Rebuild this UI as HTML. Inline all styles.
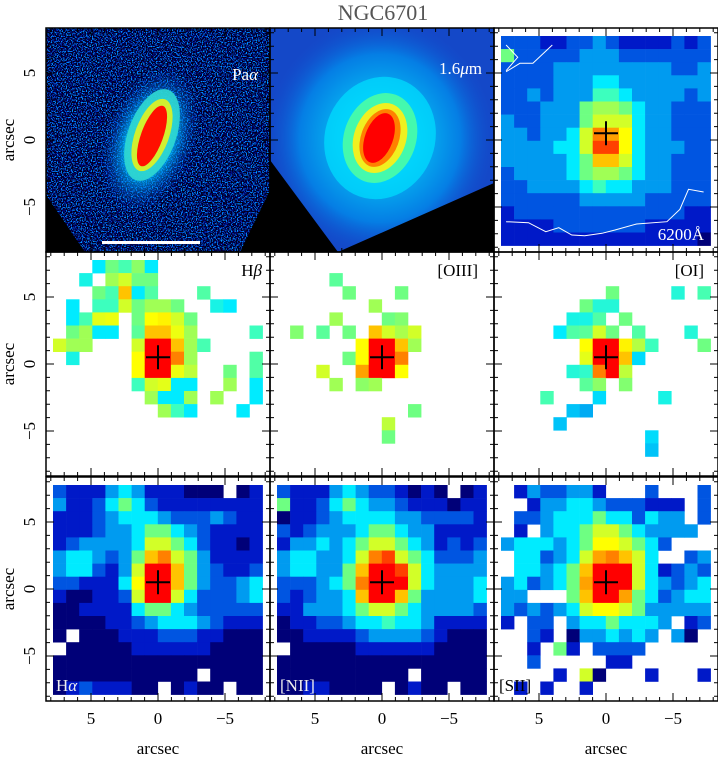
<!DOCTYPE html>
<html><head><meta charset="utf-8">
<style>
html,body{margin:0;padding:0;background:#fff;}
body{width:718px;height:758px;overflow:hidden;}
svg text{font-family:"Liberation Serif",serif;}
</style></head>
<body>
<svg id="fig" width="718" height="758" viewBox="0 0 718 758" xmlns="http://www.w3.org/2000/svg">
<defs>
  <filter id="speck" x="0" y="0" width="100%" height="100%">
    <feTurbulence type="fractalNoise" baseFrequency="0.8" numOctaves="1" seed="3" result="n"/>
    <feColorMatrix in="n" type="matrix" values="0 0 0 0 0  0 0 0 2.2 -1.2  0 0 0 3 -1.0  0 0 0 6 -2.6"/>
  </filter>
  <clipPath id="paClip"><polygon points="46,28 270,28 270,190 240,252 85,252 46,195"/></clipPath>
  <clipPath id="irClip"><polygon points="270,28 494,28 494,183 338,252 270,160"/></clipPath>
  <radialGradient id="irGlow" cx="0.5" cy="0.5" r="0.5">
    <stop offset="0" stop-color="#40ffd0"/>
    <stop offset="0.35" stop-color="#00d8ff"/>
    <stop offset="0.7" stop-color="#0090ee"/>
    <stop offset="1" stop-color="#1050d0" stop-opacity="0"/>
  </radialGradient>
  <radialGradient id="paGlow" cx="0.5" cy="0.5" r="0.5">
    <stop offset="0" stop-color="#60ff90"/>
    <stop offset="0.5" stop-color="#00c0ff"/>
    <stop offset="1" stop-color="#0040d0" stop-opacity="0"/>
  </radialGradient>
</defs>
<text x="383" y="20" text-anchor="middle" font-size="22" fill="#555">NGC6701</text>

<g>
  <rect x="46" y="28" width="224" height="224" fill="#000"/>
  <g clip-path="url(#paClip)">
    <rect x="46" y="28" width="224" height="224" fill="#000018"/>
    <rect x="46" y="28" width="224" height="224" filter="url(#speck)"/>
    <ellipse cx="150" cy="140" rx="45" ry="75" transform="rotate(20 150 140)" fill="url(#paGlow)" opacity="0.8"/>
    <ellipse cx="152" cy="135" rx="24" ry="48" transform="rotate(20 152 135)" fill="#30d8d0" opacity="0.9"/>
    <ellipse cx="152" cy="135" rx="17" ry="38" transform="rotate(20 152 135)" fill="#d0f030"/>
    <ellipse cx="152" cy="136" rx="11" ry="32" transform="rotate(20 152 136)" fill="#ff1000"/>
  </g>
  <rect x="102" y="241" width="98" height="3" fill="#fff"/>
  <text x="258" y="80" text-anchor="end" font-size="17" fill="#fff">Pa<tspan font-style="italic">α</tspan></text>
</g>

<g>
  <rect x="270" y="28" width="224" height="224" fill="#000"/>
  <g clip-path="url(#irClip)">
    <rect x="270" y="28" width="224" height="224" fill="#1448c8"/>
    <ellipse cx="380" cy="138" rx="115" ry="120" fill="url(#irGlow)" opacity="0.75"/>
    <ellipse cx="380" cy="138" rx="55" ry="62" transform="rotate(20 380 138)" fill="#00e0ff" opacity="0.7"/>
    <ellipse cx="380" cy="138" rx="36" ry="46" transform="rotate(20 380 138)" fill="#50ffa0" opacity="0.85"/>
    <ellipse cx="380" cy="138" rx="26" ry="36" transform="rotate(20 380 138)" fill="#f0f020"/>
    <ellipse cx="380" cy="138" rx="19" ry="30" transform="rotate(20 380 138)" fill="#ff8000"/>
    <ellipse cx="379" cy="138" rx="14" ry="26" transform="rotate(20 379 138)" fill="#ff0000"/>
  </g>
  <text x="482" y="74" text-anchor="end" font-size="17" fill="#fff">1.6<tspan font-style="italic">μ</tspan>m</text>
</g>

<g id="maps"></g>
<g id="axes"></g>
</svg>
<script>
const cont6200 = [
[2,2,2,1,1,2,2,3,2,1,1,1,1,2,1,2],
[5,2,2,2,2,2,3,3,3,2,2,2,2,2,2,2],
[2,2,2,2,3,3,3,3,3,3,3,3,3,2,2,3],
[2,2,2,2,3,3,3,4,4,3,3,3,3,3,3,3],
[2,2,3,2,3,3,3,4.5,4.5,4,3,3,3,3,2,3],
[2,2,2,3,3,3,5,5.5,5.5,5,4,3,3,2,2,2],
[3,2,2,3,3,3,5,6,6,6,4,3,3,2,2,2],
[3,3,2,3,3,4,6,8,7.5,6.5,4,3,3,2,2,2],
[3,3,3,3,4,4,6,8.5,8.5,6.5,4,3,3,3,2,2],
[3,3,3,3,3,4,5,7,7,6,4,3,3,2,2,2],
[2,3,3,3,3,4,5,5.5,5.5,5,4,3,3,2,2,2],
[2,2,3,3,3,3,4,4.5,4,4,3,3,3,2,2,2],
[2,2,2,2,2,2,3,3,3,3,3,2,2,2,2,2],
[1,2,2,2,2,2,2,2,2,2,2,2,2,2,1,1],
[1,1,1,1,2,2,2,2,2,2,2,1,1,1,1,1],
[1,1,1,1,1,1,1,1,1,1,1,1,1,1,1,0]];
const hbeta = [
[-1,-1,-1,4,5,4.6,5.3,4,-1,-1,-1,-1,-1,-1,-1,-1],
[-1,-1,4.2,-1,5.5,6,5,5,-1,-1,-1,-1,-1,-1,-1,-1],
[-1,-1,-1,5,4.6,7,4,4.7,-1,-1,-1,4.7,-1,-1,-1,-1],
[-1,4,-1,4.5,4.5,6,5,5.5,5.5,5,-1,-1,4.2,4,-1,-1],
[-1,4,4.6,6.2,6.3,-1,5,6.5,6.6,6,5,-1,-1,-1,-1,-1],
[-1,5,5.5,4,4,-1,4.8,7,7,6.3,5.5,-1,-1,-1,-1,4.5],
[6,5.5,5.5,-1,-1,-1,6,9,9,7,5.5,4.6,-1,-1,-1,-1],
[-1,4.2,-1,-1,-1,-1,6.5,9,9,8,5.5,-1,-1,-1,-1,4.7],
[-1,-1,-1,-1,-1,-1,6.5,9,9,6.3,5.8,-1,-1,5,-1,4.7],
[-1,-1,-1,-1,-1,-1,4.5,6,6.2,4,4,-1,-1,5.5,-1,4],
[-1,-1,-1,-1,-1,-1,-1,5.5,4,4,5.5,-1,5.5,-1,-1,4],
[-1,-1,-1,-1,-1,-1,-1,-1,5.5,4.5,4,-1,-1,-1,4,-1],
[-1,-1,-1,-1,-1,-1,-1,-1,-1,-1,-1,-1,-1,-1,-1,-1],
[-1,-1,-1,-1,-1,-1,-1,-1,-1,-1,-1,-1,-1,-1,-1,-1],
[-1,-1,-1,-1,-1,-1,-1,-1,-1,-1,-1,-1,-1,-1,-1,-1],
[-1,-1,-1,-1,-1,-1,-1,-1,-1,-1,-1,-1,-1,-1,-1,-1]];
const oiii = [
[-1,-1,-1,-1,-1,-1,-1,-1,-1,-1,-1,-1,-1,-1,-1,-1],
[-1,-1,-1,-1,4.8,-1,-1,-1,-1,-1,-1,-1,-1,-1,-1,-1],
[-1,-1,-1,-1,-1,5,-1,-1,-1,5,-1,-1,-1,-1,-1,-1],
[-1,-1,-1,-1,-1,-1,-1,5.5,-1,-1,-1,-1,-1,-1,-1,-1],
[-1,-1,-1,-1,5.5,-1,-1,-1,5,5.2,-1,-1,-1,-1,-1,-1],
[-1,5.2,-1,4.8,-1,5,-1,7,6,5.6,6,-1,-1,-1,-1,-1],
[-1,-1,-1,-1,-1,-1,6.5,9,9,7,5.5,-1,-1,-1,-1,-1],
[-1,-1,-1,-1,-1,5,6.5,9,9,8,-1,-1,-1,-1,-1,-1],
[-1,-1,-1,6,-1,-1,7.5,9,9,6.5,-1,-1,-1,-1,-1,-1],
[-1,-1,-1,-1,5.5,-1,5.3,5.5,-1,-1,-1,-1,-1,-1,-1,-1],
[-1,-1,-1,-1,-1,-1,-1,-1,-1,-1,-1,-1,-1,-1,-1,-1],
[-1,-1,-1,-1,-1,-1,-1,-1,-1,-1,5,-1,-1,-1,-1,-1],
[-1,-1,-1,-1,-1,-1,-1,-1,5.8,-1,-1,-1,-1,-1,-1,-1],
[-1,-1,-1,-1,-1,-1,-1,-1,5,-1,-1,-1,-1,-1,-1,-1],
[-1,-1,-1,-1,-1,-1,-1,-1,-1,-1,-1,-1,-1,-1,-1,-1],
[-1,-1,-1,-1,-1,-1,-1,-1,-1,-1,-1,-1,-1,-1,-1,-1]];
const oi = [
[-1,-1,-1,-1,-1,-1,-1,-1,-1,-1,-1,-1,-1,-1,-1,-1],
[-1,-1,-1,-1,-1,-1,-1,-1,-1,-1,-1,-1,-1,-1,-1,-1],
[-1,-1,-1,-1,-1,-1,-1,-1,5,-1,-1,-1,-1,4.3,-1,4.6],
[-1,-1,-1,-1,-1,-1,5,4.3,4.3,-1,-1,-1,-1,-1,-1,-1],
[-1,-1,-1,-1,-1,4.2,4.2,4.7,-1,5,-1,-1,-1,-1,-1,-1],
[-1,-1,-1,-1,4,4.7,4.8,6,5,-1,4.7,-1,-1,-1,4.3,-1],
[-1,-1,-1,-1,-1,-1,6.5,9,9,6.6,5.7,4.5,-1,-1,-1,5],
[-1,-1,-1,-1,-1,-1,6.2,9,9,7,3.8,-1,-1,-1,-1,-1],
[-1,-1,-1,-1,-1,4.3,4.4,8,9,5.8,-1,-1,-1,-1,-1,-1],
[-1,-1,-1,-1,-1,-1,4.8,5.3,-1,5.2,-1,-1,-1,-1,-1,-1],
[-1,-1,-1,4.6,-1,-1,-1,3.8,-1,-1,-1,-1,4.2,-1,-1,-1],
[-1,-1,-1,-1,-1,3.5,3.2,-1,-1,-1,-1,-1,-1,-1,-1,-1],
[-1,-1,-1,-1,3.5,-1,-1,-1,-1,-1,-1,-1,-1,-1,-1,-1],
[-1,-1,-1,-1,-1,-1,-1,-1,-1,-1,-1,3.8,-1,-1,-1,-1],
[-1,-1,-1,-1,-1,-1,-1,-1,-1,-1,-1,3.5,-1,-1,-1,-1],
[-1,-1,-1,-1,-1,-1,-1,-1,-1,-1,-1,-1,-1,-1,-1,-1]];
const halpha = [
[2,1,1,1,3,4,3,1,1,1,0,0,0,-1,0,1],
[3,1,1,2,4,5,4,2,1,1,1,1,1,1,1,1],
[1,1,1,2,3,4,4,4,3,2,2,2,3,2,1,1],
[1,1,1,2,3,3,4,5,5,4,3,2,1,1,1,1],
[1,2,3,3,3,3,4,6,6,5,4,2,1,1,0,1],
[3,4,4,3,2,3,5,7,8,6,5,3,1,1,1,1],
[3,4,4,2,1,3,6,9,9,7,5,3,2,1,1,2],
[2,2,1,1,1,4,6.5,9,9,7,5,3,2,2,3,4],
[1,0,0,1,1,2,6,9,9,6,4,2,2,2,3,4],
[0,0,1,1,1,1,4,5,5,4,3,2,2,2,2,2],
[0,0,0,0,1,1,2,3,4,4,4,3,2,1,1,1],
[0,-1,0,0,0,1,1,1,2,2,2,1,1,0,0,0],
[-1,0,0,0,0,0,1,1,1,1,1,1,0,0,0,0],
[0,0,0,0,0,0,0,0,0,0,0,0,0,0,0,0],
[0,0,0,0,0,0,0,0,0,0,0,-1,0,0,0,0],
[0,1,2,1,1,1,0,0,-1,0,1,0,0,-1,0,0]];
const nii = [
[2,1,1,1,3,4,3,2,2,1,0,1,0,-1,0,1],
[5,1,1,2,4,5,4,3,3,2,1,1,1,0,1,1],
[0,1,1,2,3,4,4,4,4,3,3,2,2,2,2,1],
[2,1,2,3,3,3,4,5,5,4,3,3,1,1,1,1],
[1,3,3,4,3,4,5,6,6,5,4,3,1,2,1,2],
[3,4,4,3,3,4,6,8,8.5,6,5,4,2,2,2,3],
[3,4,4,3,3,5,7,9,9,8.5,6,4,3,3,3,3],
[2,2,2,3,4,5,8,9,9,9,6,4,3,3,3,4],
[2,1,2,3,3,4,7,9,9,7,5,3,3,3,3,4],
[1,1,3,3,3,4,5,6,6,5,4,3,3,3,3,2],
[0,1,1,2,2,3,4,4,4.5,4,4,3,1,1,1,1],
[0,0,1,1,1,1,2,3,3,3,3,2,1,0,0,0],
[-1,0,0,0,0,0,1,1,1,1,1,1,0,0,0,0],
[0,0,0,0,0,0,0,0,0,0,0,0,0,0,0,0],
[0,0,0,0,0,0,0,0,0,0,-1,0,0,0,0,0],
[0,0,1,1,0,0,0,0,-1,0,1,0,0,-1,0,0]];
const sii = [
[-1,1,3,2,2,3,3,1,-1,-1,-1,2,-1,-1,-1,2],
[-1,-1,1,3,3,4,4,3,2,2,2,1,1,1,-1,2],
[-1,2,2,3,4,4,4,5,4,4,2,4,3,3,-1,2],
[-1,1,-1,3,4,4,5,6,6,5,4,3,3,3,3,-1],
[3,4,4,4,3,4,5,6.5,6.5,6,5,4,2,-1,-1,-1],
[-1,4,4,2,3,4,6,7.5,8,7,6,4,-1,-1,2,3],
[-1,4,4,3,4,5,7,9,9,9,6,4,1,2,3,2],
[3,4,2,3,4,5,7.5,9,9,9,6,4,3,2,3,4],
[3,3,-1,-1,-1,5,7,9,9,7.5,5,4,2,3,4,4],
[3,2,3,2,3,4,6,6.5,6.5,6,5,3,3,3,3,3],
[1,-1,2,2,-1,3,4,4,5,4,4,4,3,-1,1,2],
[-1,-1,2,1,-1,0,3,3,4,3,4,3,-1,3,0,-1],
[-1,-1,1,-1,5,1,-1,2,2,2,2,-1,-1,-1,-1,-1],
[-1,-1,2,-1,-1,-1,-1,-1,1,1,-1,-1,-1,-1,-1,-1],
[-1,-1,-1,-1,1,-1,6,0,-1,-1,-1,1,-1,-1,-1,1],
[-1,1,-1,1,-1,-1,1,-1,-1,-1,-1,-1,-1,-1,-1,-1]];
const xTickLabels = ["5","0","−5"];
const yTickLabels = ["5","0","−5"];
const tickValues = [5,0,-5];

const colX = [46,270,494], rowY = [28,252,477], PW = 224;
const PXA = 13.4;
const CELL = 13.1, GX = 7, GY = 8;
function ax(col, a){ return colX[col] + PW/2 - a*PXA; }
function ay(row, a){ return rowY[row] + PW/2 - a*PXA; }

const stops = [[0,[0,0,120]],[1,[0,25,200]],[2,[0,85,225]],[3,[0,155,240]],[4,[0,235,255]],[4.5,[60,255,190]],
 [5,[110,255,130]],[6,[210,255,40]],[6.5,[255,255,0]],[7,[255,195,0]],[8,[255,128,0]],[9,[255,0,0]]];
function cmap(v){
  if (v<=0) return "rgb(0,0,120)";
  for (let i=1;i<stops.length;i++){
    if (v<=stops[i][0]){
      const a=stops[i-1], b=stops[i], t=(v-a[0])/(b[0]-a[0]);
      const c=a[1].map((q,k)=>Math.round(q+(b[1][k]-q)*t));
      return `rgb(${c[0]},${c[1]},${c[2]})`;
    }
  }
  return "rgb(255,0,0)";
}
const NS="http://www.w3.org/2000/svg";
function mk(tag, attrs, parent){
  const e=document.createElementNS(NS,tag);
  for (const k in attrs) e.setAttribute(k, attrs[k]);
  parent.appendChild(e); return e;
}
const maps=document.getElementById('maps');
const panels = [
 {data:cont6200,col:2,row:0,name:'continuum-6200-map'},
 {data:hbeta,col:0,row:1,name:'hbeta-map'},
 {data:oiii,col:1,row:1,name:'oiii-map'},
 {data:oi,col:2,row:1,name:'oi-map'},
 {data:halpha,col:0,row:2,name:'halpha-map'},
 {data:nii,col:1,row:2,name:'nii-map'},
 {data:sii,col:2,row:2,name:'sii-map'}];
panels.forEach(p=>{
  const g=mk('g',{},maps);
  
  
  const x0=colX[p.col]+GX, y0=rowY[p.row]+GY;
  if (p.row===0) mk('rect',{x:colX[p.col],y:rowY[p.row],width:PW,height:PW,fill:'#fff'},g);
  p.data.forEach((r,i)=>r.forEach((v,j)=>{
    if (v<0) return;
    const c=mk('rect',{x:(x0+j*CELL).toFixed(2),y:(y0+i*CELL).toFixed(2),width:CELL+0.3,height:CELL+0.3,fill:cmap(v)},g);
    
    
  }));
  const cx=ax(p.col,0), cy=ay(p.row,0.5);
  const cr=mk('path',{d:`M${cx-12},${cy}H${cx+12}M${cx},${cy-12}V${cy+12}`,stroke:'#000','stroke-width':2},g);
  
  
});
function zx(z){return 40+z/2.313;} function zy(z){return z/3;}
const topLine=[[1078,215],[1110,190],[1140,190],[1185,135]];
const arrowLine=[[1078,135],[1105,172],[1078,212]];
const botLine=[[1078,665],[1130,668],[1170,695],[1200,683],[1230,705],[1260,707],[1300,700],[1330,690],[1380,672],[1450,665],[1480,628],[1500,568],[1535,576]];
[topLine,arrowLine,botLine].forEach(L=>{
  const pl=mk('polyline',{points:L.map(p=>zx(p[0]).toFixed(1)+','+zy(p[1]).toFixed(1)).join(' '),fill:'none',stroke:'#fff','stroke-width':1},maps);
  
  
});

const labels=[
 ['6200Å','',704,240,'end','#fff','cont-6200-label'],
 ['H','β',262,276,'end','#000','hbeta-label'],
 ['[OIII]','',478,276,'end','#000','oiii-label'],
 ['[OI]','',704,276,'end','#000','oi-label'],
 ['H','α',56,691,'start','#eee','halpha-label'],
 ['[NII]','',280,691,'start','#eee','nii-label'],
 ['[SII]','',499,691,'start','#000','sii-label']];
labels.forEach(l=>{
  const t=mk('text',{x:l[2],y:l[3],'text-anchor':l[4],fill:l[5],'font-size':17},maps);
  t.textContent=l[0];
  if (l[1]){ const s=mk('tspan',{'font-style':'italic'},t); s.textContent=l[1]; }
  
  
});

const axg=document.getElementById('axes');
for (let r=0;r<3;r++) for (let c=0;c<3;c++){
  const x0=colX[c], y0=rowY[r];
  const fr=mk('rect',{x:x0,y:y0,width:PW,height:PW,fill:'none',stroke:'#000','stroke-width':1.5},axg);
  
  
  let d='';
  for (let a=-8;a<=8;a++){
    const L = (a%5===0)?8:4;
    const x=ax(c,a), y=ay(r,a);
    d+=`M${x},${y0}v${L}M${x},${y0+PW}v${-L}M${x0},${y}h${L}M${x0+PW},${y}h${-L}`;
  }
  const tk=mk('path',{d:d,stroke:'#000','stroke-width':1,fill:'none'},axg);
  
  
}
for (let c=0;c<3;c++){
  tickValues.forEach((v,i)=>{
    const t=mk('text',{x:ax(c,v),y:724,'text-anchor':'middle','font-size':17},axg);
    t.textContent=xTickLabels[i];
    
    
  });
  const xt=mk('text',{x:colX[c]+PW/2,y:754,'text-anchor':'middle','font-size':17},axg);
  xt.textContent='arcsec';
  
  
}
for (let r=0;r<3;r++){
  tickValues.forEach((v,i)=>{
    const y=ay(r,v);
    const t=mk('text',{x:0,y:0,'text-anchor':'middle','font-size':17,transform:`translate(35,${y}) rotate(-90)`},axg);
    t.textContent=yTickLabels[i];
    
    
  });
  const yt=mk('text',{x:0,y:0,'text-anchor':'middle','font-size':17,transform:`translate(14,${rowY[r]+PW/2}) rotate(-90)`},axg);
  yt.textContent='arcsec';
  
  
}
</script>
</body></html>
